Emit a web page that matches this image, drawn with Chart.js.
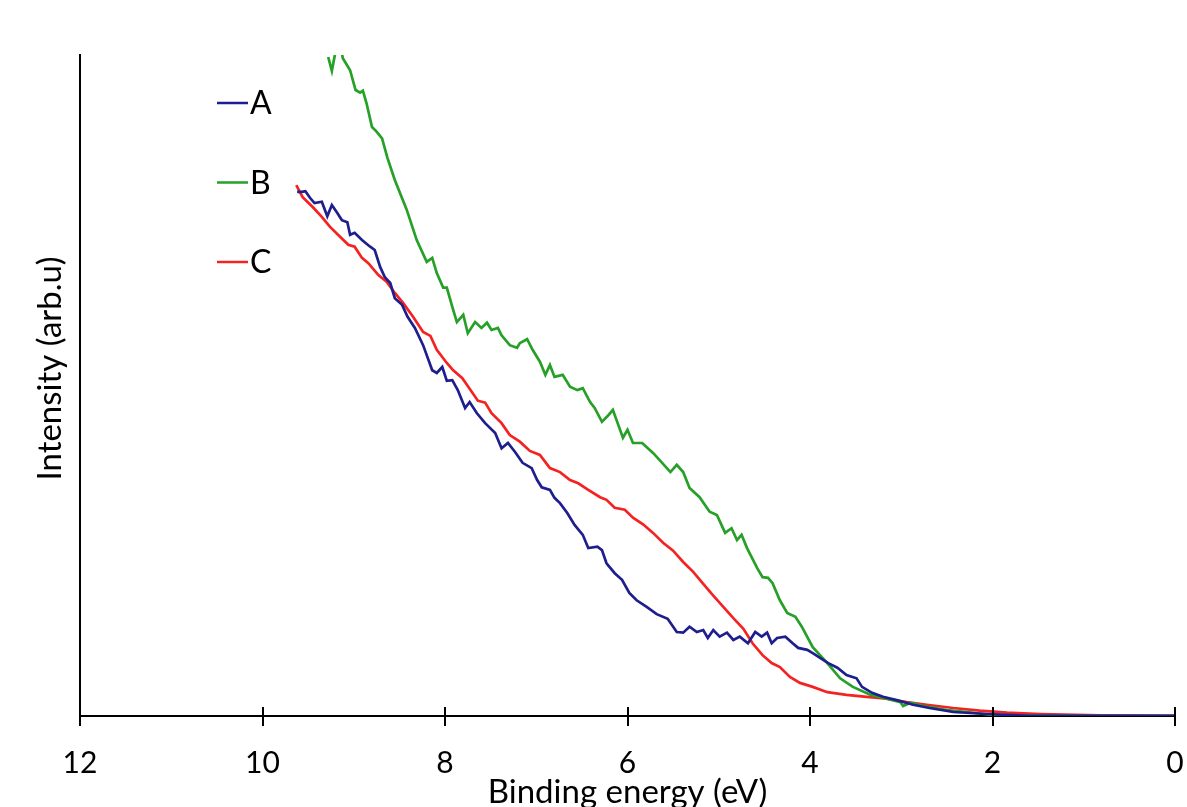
<!DOCTYPE html>
<html>
<head>
<meta charset="utf-8">
<script src="https://cdn.jsdelivr.net/npm/chart.js@4/dist/chart.umd.min.js"></script>
<style>
  html, body { margin: 0; padding: 0; background: #fff; }
  #wrap { width: 1187px; height: 807px; }
</style>
</head>
<body>
<div id="wrap"><canvas id="xpsChart" width="1187" height="807"></canvas></div>
<script>
// binding energy (eV) and intensity (arb.u)
const seriesNames = ["A", "B", "C"];
const seriesColors = ["#1e1e8e", "#26a026", "#f52222"];
const xTicks = [12, 10, 8, 6, 4, 2, 0];

const energyA = [9.62, 9.57, 9.53, 9.48, 9.43, 9.35, 9.29, 9.24, 9.18, 9.13, 9.07, 9.04, 8.99, 8.91, 8.82, 8.77, 8.71, 8.66, 8.60, 8.55, 8.47, 8.41, 8.33, 8.24, 8.14, 8.09, 8.03, 7.98, 7.92, 7.86, 7.78, 7.73, 7.65, 7.56, 7.45, 7.38, 7.31, 7.23, 7.15, 7.05, 6.99, 6.94, 6.85, 6.80, 6.74, 6.66, 6.58, 6.49, 6.43, 6.33, 6.28, 6.23, 6.14, 6.06, 5.98, 5.90, 5.79, 5.68, 5.56, 5.46, 5.39, 5.32, 5.24, 5.17, 5.12, 5.06, 4.99, 4.91, 4.84, 4.77, 4.68, 4.60, 4.53, 4.47, 4.42, 4.36, 4.27, 4.19, 4.13, 4.03, 3.97, 3.89, 3.80, 3.70, 3.60, 3.49, 3.43, 3.32, 3.20, 3.05, 2.87, 2.69, 2.43, 2.06, 1.59, 0.82, 0];
const intensityA = [79.3, 79.3, 79.4, 78.4, 77.6, 77.8, 75.6, 77.3, 76.1, 75.0, 74.7, 72.8, 73.1, 72.0, 71.0, 70.5, 67.9, 66.4, 65.5, 63.2, 62.2, 60.4, 58.7, 56.1, 52.3, 51.9, 52.8, 50.7, 50.8, 49.3, 46.6, 47.5, 45.8, 44.3, 42.8, 40.5, 41.3, 39.9, 38.3, 37.5, 35.7, 34.6, 34.2, 33.0, 32.2, 30.7, 28.9, 27.4, 25.4, 25.6, 25.1, 23.1, 21.6, 20.6, 18.6, 17.5, 16.5, 15.4, 14.7, 12.7, 12.6, 13.5, 12.7, 13.0, 11.8, 13.0, 12.0, 12.6, 11.5, 12.0, 11.0, 12.7, 12.0, 12.6, 11.0, 11.8, 12.0, 11.0, 10.3, 10.0, 9.5, 8.8, 8.0, 7.3, 6.2, 5.7, 4.4, 3.5, 2.9, 2.4, 1.7, 1.2, 0.6, 0.3, 0, 0, 0];

const energyB = [9.28, 9.24, 9.20, 9.15, 9.12, 9.04, 8.98, 8.93, 8.90, 8.86, 8.80, 8.75, 8.69, 8.63, 8.55, 8.42, 8.31, 8.20, 8.14, 8.09, 8.02, 7.98, 7.92, 7.87, 7.80, 7.75, 7.67, 7.60, 7.54, 7.49, 7.42, 7.38, 7.29, 7.21, 7.18, 7.10, 7.04, 6.96, 6.90, 6.85, 6.80, 6.71, 6.63, 6.55, 6.49, 6.41, 6.36, 6.28, 6.21, 6.16, 6.10, 6.05, 6.00, 5.94, 5.84, 5.72, 5.64, 5.53, 5.46, 5.39, 5.32, 5.21, 5.10, 5.02, 4.93, 4.86, 4.80, 4.75, 4.69, 4.58, 4.52, 4.46, 4.41, 4.33, 4.25, 4.16, 4.09, 3.97, 3.81, 3.67, 3.53, 3.34, 3.16, 3.01, 2.98, 2.90, 2.72, 2.50, 2.28, 2.00, 1.59, 0.82, 0];
const intensityB = [99.7, 97.6, 100.5, 102.0, 99.5, 97.7, 94.7, 94.3, 94.6, 92.7, 89.1, 88.4, 87.4, 84.4, 81.1, 76.6, 72.0, 68.7, 69.3, 67.0, 64.8, 64.8, 61.9, 59.6, 60.7, 57.9, 59.6, 58.7, 59.5, 58.4, 58.7, 57.6, 56.1, 55.7, 56.4, 57.0, 55.4, 53.6, 51.6, 53.1, 51.3, 51.6, 49.8, 49.3, 49.6, 47.5, 46.6, 44.5, 45.5, 46.3, 44.0, 42.1, 43.3, 41.3, 41.3, 39.8, 38.6, 36.9, 38.0, 36.9, 34.5, 33.1, 30.9, 30.4, 27.7, 28.4, 26.6, 27.4, 25.4, 22.4, 21.0, 20.9, 20.1, 17.5, 15.6, 15.0, 13.5, 10.4, 8.0, 5.7, 4.4, 3.2, 2.6, 2.1, 1.5, 2.0, 1.4, 0.9, 0.6, 0.15, 0.05, 0, 0];

const energyC = [9.63, 9.56, 9.45, 9.35, 9.26, 9.15, 9.06, 8.99, 8.91, 8.84, 8.73, 8.64, 8.55, 8.46, 8.35, 8.24, 8.16, 8.09, 7.98, 7.91, 7.81, 7.73, 7.64, 7.56, 7.49, 7.38, 7.29, 7.18, 7.07, 6.96, 6.85, 6.74, 6.63, 6.54, 6.43, 6.30, 6.23, 6.14, 6.03, 5.94, 5.83, 5.72, 5.61, 5.50, 5.39, 5.28, 5.17, 5.06, 4.95, 4.84, 4.73, 4.63, 4.52, 4.42, 4.33, 4.22, 4.11, 3.97, 3.81, 3.60, 3.38, 3.16, 2.94, 2.72, 2.43, 2.14, 1.84, 1.48, 0.82, 0];
const intensityC = [80.3, 78.5, 77.0, 75.5, 74.0, 72.5, 71.3, 71.0, 69.3, 68.5, 66.7, 65.7, 64.0, 62.5, 60.4, 58.1, 57.5, 55.4, 53.4, 52.3, 51.1, 49.5, 47.7, 47.4, 45.8, 44.3, 42.5, 41.5, 40.1, 39.5, 37.5, 36.9, 35.7, 35.2, 34.2, 33.1, 32.7, 31.5, 31.2, 30.0, 29.0, 27.7, 26.2, 25.0, 23.3, 21.8, 20.0, 18.2, 16.5, 14.8, 13.2, 11.0, 9.2, 8.0, 7.4, 5.9, 5.0, 4.4, 3.6, 3.2, 2.9, 2.6, 2.1, 1.7, 1.2, 0.8, 0.5, 0.3, 0.1, 0];

const energies = [energyA, energyB, energyC];
const intensities = [intensityA, intensityB, intensityC];

const xTitle = "Binding energy (eV)";
const yTitle = "Intensity (arb.u)";

const fontFamily = "Lato, 'Open Sans', sans-serif";

const datasets = seriesNames.map((name, i) => ({
    label: name,
    data: energies[i].map((e, k) => ({ x: e, y: intensities[i][k] })),
    borderColor: seriesColors[i],
    backgroundColor: seriesColors[i],
    borderWidth: 2.7,
    pointRadius: 0,
    tension: 0,
    fill: false,
    clip: 0,
}));

// tick marks that cross the x axis line
const crossTicks = {
    id: "crossTicks",
    afterDraw(chart) {
        const { ctx, scales } = chart;
        const xs = scales.x;
        const yBase = xs.top;
        ctx.save();
        ctx.strokeStyle = "#000";
        ctx.lineWidth = 2;
        xTicks.forEach((t) => {
            const px = Math.round(xs.getPixelForValue(t));
            ctx.beginPath();
            ctx.moveTo(px, yBase - 9);
            ctx.lineTo(px, yBase + 10);
            ctx.stroke();
        });
        ctx.restore();
    },
};

// y title sits a little above the middle of the axis in the original
const yAxisTitle = {
    id: "yAxisTitle",
    afterDraw(chart) {
        const { ctx, chartArea } = chart;
        ctx.save();
        ctx.translate(chartArea.left - 30, (chartArea.top + chartArea.bottom) / 2 - 17);
        ctx.rotate(-Math.PI / 2);
        ctx.font = "33px " + fontFamily;
        ctx.fillStyle = "#000";
        ctx.textAlign = "center";
        ctx.textBaseline = "middle";
        ctx.fillText(yTitle, 0, 0);
        ctx.restore();
    },
};

// legend drawn inside the plot, top-left
const innerLegend = {
    id: "innerLegend",
    afterDraw(chart) {
        const { ctx, chartArea } = chart;
        ctx.save();
        ctx.font = "32px " + fontFamily;
        ctx.textBaseline = "middle";
        ctx.fillStyle = "#000";
        chart.data.datasets.forEach((ds, i) => {
            const y = chartArea.top + 48 + i * 79.5;
            const x0 = chartArea.left + 137;
            ctx.strokeStyle = ds.borderColor;
            ctx.lineWidth = 2.5;
            ctx.beginPath();
            ctx.moveTo(x0, y);
            ctx.lineTo(x0 + 31, y);
            ctx.stroke();
            ctx.fillText(ds.label, x0 + 33, y + 1);
        });
        ctx.restore();
    },
};

const ctx = document.getElementById("xpsChart").getContext("2d");
new Chart(ctx, {
    type: "line",
    data: { datasets },
    plugins: [crossTicks, yAxisTitle, innerLegend],
    options: {
        responsive: false,
        animation: false,
        layout: { padding: { left: 30, right: 12, top: 55, bottom: 0 } },
        plugins: {
            legend: { display: false },
            tooltip: { enabled: false },
        },
        scales: {
            x: {
                type: "linear",
                reverse: true,
                min: 0,
                max: 12,
                afterBuildTicks: (axis) => {
                    axis.ticks = xTicks.map((v) => ({ value: v }));
                },
                ticks: {
                    color: "#000",
                    padding: 0,
                    maxRotation: 0,
                    font: { family: fontFamily, size: 30, lineHeight: 1 },
                },
                // invisible tick marks only reserve the gap above the labels
                grid: {
                    display: true,
                    drawOnChartArea: false,
                    drawTicks: true,
                    tickLength: 32,
                    tickColor: "rgba(0,0,0,0)",
                },
                border: { display: true, color: "#000", width: 2 },
                title: {
                    display: true,
                    text: xTitle,
                    color: "#000",
                    font: { family: fontFamily, size: 33, lineHeight: 0.88 },
                    padding: { top: 0, bottom: 0 },
                },
            },
            y: {
                type: "linear",
                min: 0,
                max: 100,
                afterFit: (axis) => {
                    axis.width = 50;
                },
                ticks: { display: false },
                grid: { display: false, drawTicks: false },
                border: { display: true, color: "#000", width: 2 },
            },
        },
    },
});
</script>
</body>
</html>
